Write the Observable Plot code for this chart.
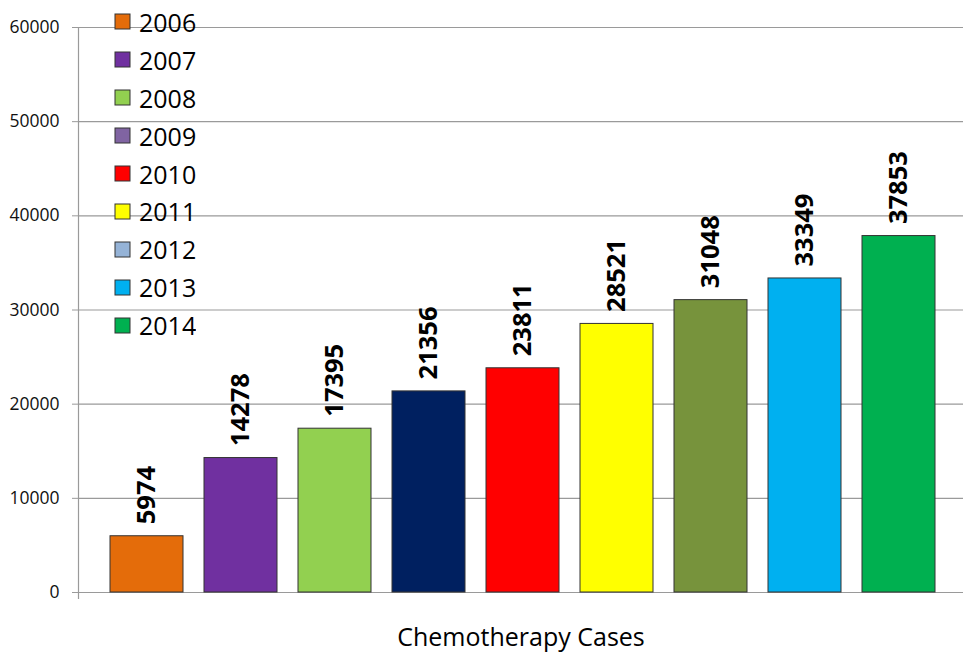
<!DOCTYPE html>
<html>
<head>
<meta charset="utf-8">
<script src="https://cdn.jsdelivr.net/npm/d3@7"></script>
<script src="https://cdn.jsdelivr.net/npm/@observablehq/plot@0.6"></script>
<style>
  html, body { margin: 0; padding: 0; background: #fff; }
  #wrap { position: relative; width: 964px; height: 654px; overflow: hidden; }
  #legend { position: absolute; left: 115px; top: 3px; }
  #legend .lg-swatch { height: 37.9px; margin: 0; padding: 0; display: flex; align-items: center; font: 25px "Open Sans"; color: #000; }
  #legend svg { margin-right: 9px; overflow: visible; }
  #legend rect { stroke: #333; stroke-width: 1; }
</style>
</head>
<body>
<div id="wrap"><div id="chart"></div><div id="legend"></div></div>
<script>
const years = ["2006", "2007", "2008", "2009", "2010", "2011", "2012", "2013", "2014"];
const cases = [5974, 14278, 17395, 21356, 23811, 28521, 31048, 33349, 37853];
const barColors = ["#E46C0A", "#7030A0", "#92D050", "#002060", "#FF0000", "#FFFF00", "#77933C", "#00B0F0", "#00B050"];
const legendColors = ["#E46C0A", "#7030A0", "#92D050", "#8064A2", "#FF0000", "#FFFF00", "#95B3D7", "#00B0F0", "#00B050"];
const yTicks = [0, 10000, 20000, 30000, 40000, 50000, 60000];
const xTitle = "Chemotherapy Cases";

const data = years.map((year, i) => ({year, value: cases[i]}));

const chart = Plot.plot({
  width: 964,
  height: 654,
  marginLeft: 78,
  marginRight: 1,
  marginTop: 27,
  marginBottom: 62,
  style: {fontFamily: "Open Sans", background: "white", color: "#000"},
  x: {domain: years, range: [96.5, 947.8], paddingInner: 0.228, paddingOuter: 0.114, axis: null},
  y: {domain: [0, 60000], axis: null},
  color: {domain: years, range: barColors},
  marks: [
    Plot.ruleY(yTicks, {stroke: "#9a9a9a", strokeWidth: 1.2}),
    Plot.frame({anchor: "left", stroke: "#9a9a9a", strokeWidth: 1.2, insetBottom: -6}),
    Plot.axisY(yTicks, {anchor: "left", tickSize: 6, tickPadding: 13, fontSize: 17.5, stroke: "#9a9a9a", fill: "#111", tickFormat: "d", label: null}),
    Plot.barY(data, {x: "year", y: "value", fill: "year", stroke: "#333", strokeWidth: 1}),
    Plot.text(data, {x: "year", y: "value", text: d => String(d.value), rotate: -90, textAnchor: "start", dy: -12, fontSize: 25.5, fontWeight: "bold", fill: "#000"}),
    Plot.text([xTitle], {text: d => d, frameAnchor: "bottom", dy: 53, fontSize: 25, fill: "#000"})
  ]
});
document.getElementById("chart").append(chart);

const legend = Plot.legend({
  legend: "swatches",
  color: {domain: years, range: legendColors},
  columns: 1,
  swatchSize: 15,
  className: "lg",
  style: {fontSize: "25px", fontFamily: "Open Sans", color: "#000", margin: "0"}
});
document.getElementById("legend").append(legend);
</script>
</body>
</html>
